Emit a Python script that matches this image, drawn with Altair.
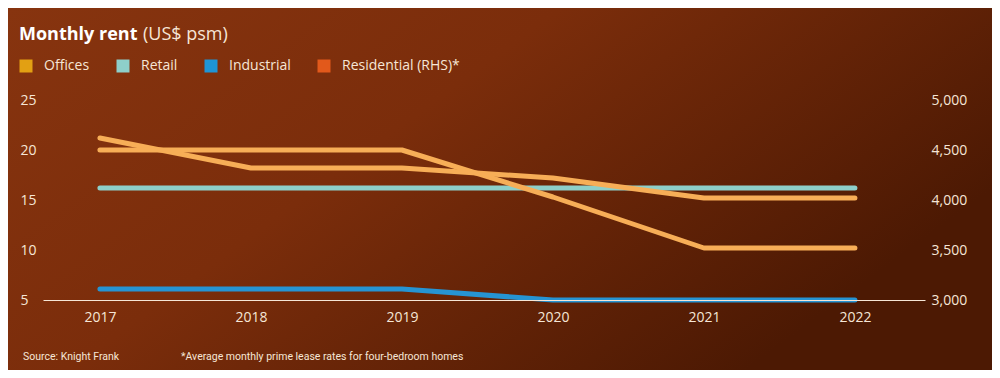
import altair as alt
import pandas as pd

years = [2017, 2018, 2019, 2020, 2021, 2022]
offices = [21.2, 18.2, 18.2, 17.2, 15.2, 15.2]
retail = [16.2, 16.2, 16.2, 16.2, 16.2, 16.2]
industrial = [6.1, 6.1, 6.1, 5.0, 5.0, 5.0]
residential = [4500, 4500, 4500, 4030, 3520, 3520]

left_ticks = [5, 10, 15, 20, 25]
right_ticks = [3000, 3500, 4000, 4500, 5000]

legend_names = ["Offices", "Retail", "Industrial", "Residential (RHS)*"]
legend_colors = ["#E2A013", "#8ECFCA", "#1F95D6", "#E2591B"]
line_colors = ["#F7AE57", "#8DCFC9", "#2694D3"]

title_bold = "Monthly rent"
title_rest = "(US$ psm)"
source_note = "Source: Knight Frank"
foot_note = "*Average monthly prime lease rates for four-bedroom homes"

CREAM = "#F6E6D6"
FONT = "Open Sans"
W, H = 882, 200
PAD = {"left": 35, "top": 92, "right": 67, "bottom": 70}

rows = []
for name, vals in [("Industrial", industrial), ("Retail", retail), ("Offices", offices)]:
    for y, v in zip(years, vals):
        rows.append({"year": y, "series": name, "value": v})
df_left = pd.DataFrame(rows)
df_right = pd.DataFrame({"year": years, "value": residential, "series": "Residential"})

xscale = alt.Scale(domain=[2016.623, 2022.464], nice=False, zero=False)
xaxis = alt.Axis(values=years, format="d", title=None, grid=False, ticks=False, tickSize=0,
                 domainColor=CREAM, domainWidth=1, labelColor=CREAM, labelFont=FONT,
                 labelFontSize=14, labelPadding=10, labelFlush=False, zindex=1)

bg = alt.Chart(alt.Data(values=[{}])).mark_rect(
    color=alt.LinearGradient(
        gradient="linear", x1=0, y1=0, x2=1, y2=0.5,
        stops=[alt.GradientStop(offset=0, color="#87340F"),
               alt.GradientStop(offset=0.45, color="#7B2D0B"),
               alt.GradientStop(offset=1, color="#4C1903")]
    )
).encode(x=alt.value(-PAD["left"]), x2=alt.value(W + PAD["right"]),
         y=alt.value(-PAD["top"]), y2=alt.value(H + PAD["bottom"]))

line_props = dict(strokeWidth=5, strokeCap="round", strokeJoin="round")

left = alt.Chart(df_left).mark_line(**line_props).encode(
    x=alt.X("year:Q", scale=xscale, axis=xaxis),
    y=alt.Y("value:Q", scale=alt.Scale(domain=[5, 25], nice=False, zero=False),
            axis=alt.Axis(values=left_ticks, orient="left", title=None, grid=False, ticks=False,
                          tickSize=0, domain=False, labelColor=CREAM, labelFont=FONT,
                          labelFontSize=14, labelAlign="left", labelPadding=23, zindex=1)),
    color=alt.Color("series:N", scale=alt.Scale(domain=["Offices", "Retail", "Industrial"],
                                                range=line_colors), legend=None),
    order=alt.Order("year:Q"),
)

right = alt.Chart(df_right).mark_line(color=line_colors[0], **line_props).encode(
    x=alt.X("year:Q", scale=xscale, axis=xaxis),
    y=alt.Y("value:Q", scale=alt.Scale(domain=[3000, 5000], nice=False, zero=False),
            axis=alt.Axis(values=right_ticks, orient="right", format=",d", title=None, grid=False,
                          ticks=False, tickSize=0, domain=False, labelColor=CREAM, labelFont=FONT,
                          labelFontSize=14, labelAlign="left", labelPadding=6, zindex=1)),
)

legend_df = pd.DataFrame({"series": legend_names})
leg = alt.Chart(legend_df).mark_square(opacity=1).encode(
    color=alt.Color("series:N", scale=alt.Scale(domain=legend_names, range=legend_colors),
                    legend=alt.Legend(orient="none", legendX=-24, legendY=-41, direction="horizontal",
                                      title=None, symbolType="square", symbolSize=169,
                                      symbolStrokeWidth=0, symbolOpacity=1, labelFont=FONT,
                                      labelFontSize=14, labelColor=CREAM, labelOffset=11,
                                      columnPadding=26))
).transform_filter("false")

t1 = alt.Chart(alt.Data(values=[{}])).mark_text(
    text=title_bold, font=FONT, fontSize=18, fontWeight="bold", color="#FFFFFF",
    align="left", baseline="alphabetic").encode(x=alt.value(-24), y=alt.value(-60))
t2 = alt.Chart(alt.Data(values=[{}])).mark_text(
    text=title_rest, font=FONT, fontSize=18, fontWeight="normal", color=CREAM,
    align="left", baseline="alphabetic").encode(x=alt.value(100), y=alt.value(-60))
f1 = alt.Chart(alt.Data(values=[{}])).mark_text(
    text=source_note, font="Roboto", fontSize=10.5, color=CREAM,
    align="left", baseline="middle").encode(x=alt.value(-20), y=alt.value(257))
f2 = alt.Chart(alt.Data(values=[{}])).mark_text(
    text=foot_note, font="Roboto", fontSize=10.5, color=CREAM,
    align="left", baseline="middle").encode(x=alt.value(138), y=alt.value(257))

chart = alt.layer(bg, left, right, leg, t1, t2, f1, f2).resolve_scale(
    y="independent", color="independent"
).properties(
    width=W, height=H, padding=PAD, autosize=alt.AutoSizeParams(type="none"),
    background="#6E280A"
).configure_view(stroke=None)

chart.save("out.html", embed_options={"renderer": "svg", "actions": False})
